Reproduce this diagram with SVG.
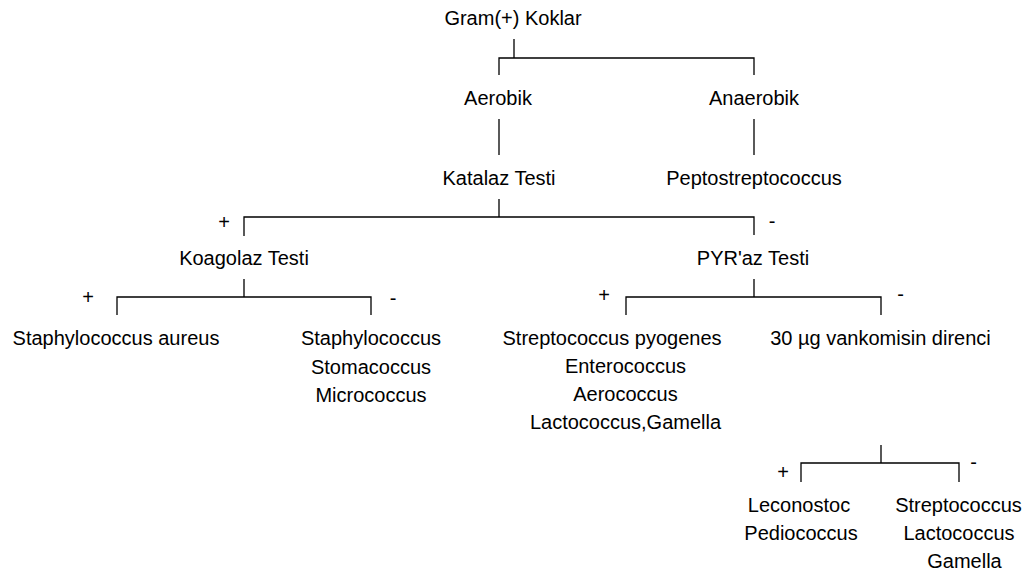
<svg xmlns="http://www.w3.org/2000/svg" width="1034" height="580" viewBox="0 0 1034 580">
<style>
text{font-family:"Liberation Sans",Arial,sans-serif;font-size:20px;fill:#000;text-anchor:middle}
.c path{fill:none;stroke:#000;stroke-width:1.3}
</style>
<rect width="1034" height="580" fill="#fff"/>
<g class="c" id="connectors">
<path d="M514 39V58M499 75V58H754V75"/>
<path d="M499 119V155"/>
<path d="M754 119V155"/>
<path d="M499 199V217M244 236V217H754V235"/>
<path d="M244 279V297M117 315V297H371V315"/>
<path d="M754 279V297M626 315V297H881V315"/>
<path d="M881 445V463M801 482V463H959V482"/>
</g>
<g id="labels">
<text x="224" y="229">+</text>
<text x="772" y="228">-</text>
<text x="88" y="304">+</text>
<text x="393" y="305">-</text>
<text x="604" y="302">+</text>
<text x="900.5" y="301">-</text>
<text x="783" y="479">+</text>
<text x="973.5" y="469">-</text>
</g>
<g id="n-gram"><text x="513" y="25">Gram(+) Koklar</text></g>
<g id="n-aerobik"><text x="498" y="105">Aerobik</text></g>
<g id="n-anaerobik"><text x="754" y="105">Anaerobik</text></g>
<g id="n-katalaz"><text x="499" y="185">Katalaz Testi</text></g>
<g id="n-pepto"><text x="754" y="185">Peptostreptococcus</text></g>
<g id="n-koagolaz"><text x="244" y="265">Koagolaz Testi</text></g>
<g id="n-pyr"><text x="753" y="265">PYR'az Testi</text></g>
<g id="n-saureus"><text x="116" y="345">Staphylococcus aureus</text></g>
<g id="n-staph"><text x="371" y="345">Staphylococcus</text><text x="371" y="374">Stomacoccus</text><text x="371" y="402">Micrococcus</text></g>
<g id="n-strep"><text x="612" y="345">Streptococcus pyogenes</text><text x="625.5" y="373">Enterococcus</text><text x="625.5" y="401">Aerococcus</text><text x="625.5" y="429">Lactococcus,Gamella</text></g>
<g id="n-vanko"><text x="880.5" y="345">30 µg vankomisin direnci</text></g>
<g id="n-leucon"><text x="799" y="512">Leconostoc</text><text x="801" y="540">Pediococcus</text></g>
<g id="n-strep2"><text x="958.5" y="512">Streptococcus</text><text x="959" y="540">Lactococcus</text><text x="964.5" y="568">Gamella</text></g>
</svg>
